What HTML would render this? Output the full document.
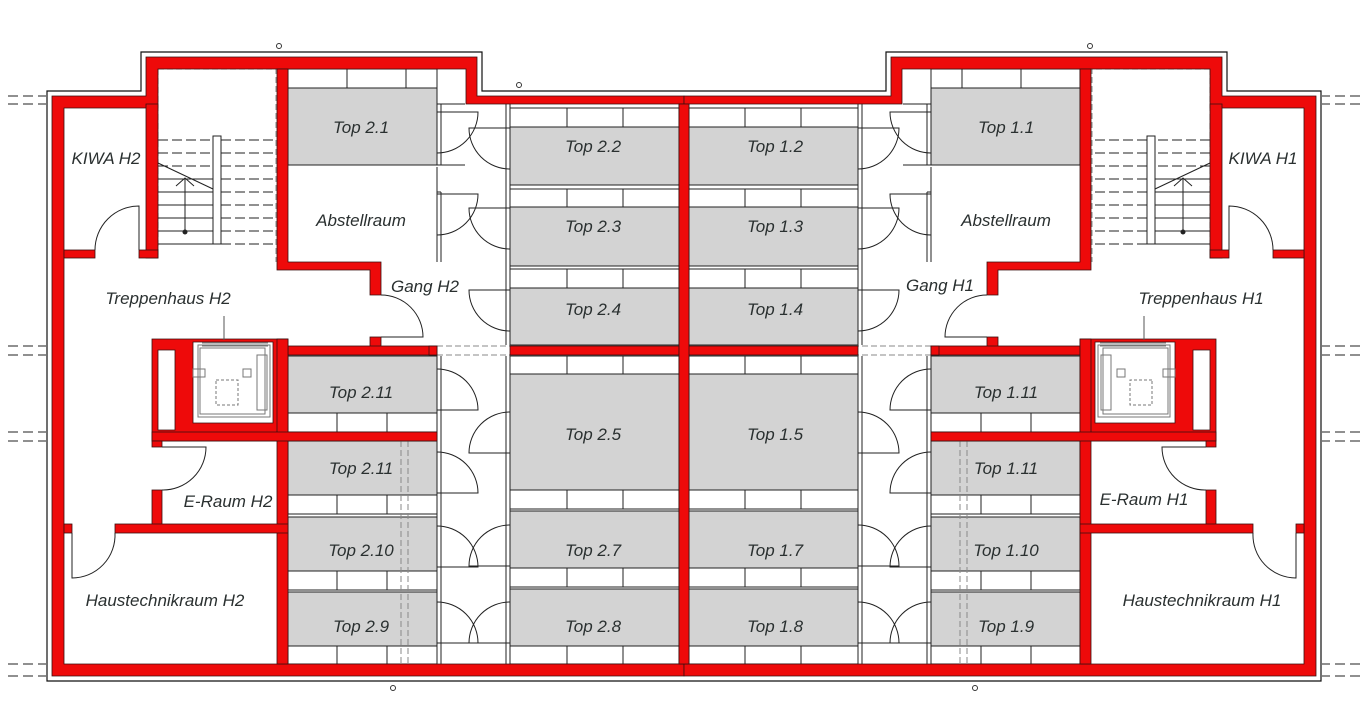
<!DOCTYPE html>
<html><head><meta charset="utf-8"><style>
html,body{margin:0;padding:0;background:#fff;width:1360px;height:716px;overflow:hidden}
svg{display:block}
text{font-family:"Liberation Sans",sans-serif;font-style:italic;font-size:17px;fill:#2a3030}
</style></head><body>
<svg width="1360" height="716" viewBox="0 0 1360 716" xmlns="http://www.w3.org/2000/svg">
<defs>
<g id="L">
  <path d="M684 91 H482 V52 H141 V91 H47 V681 H684" fill="none" stroke="#111" stroke-width="1.2"/>
  <g stroke="#222" stroke-width="1" stroke-dasharray="10,5" fill="none">
    <path d="M8 96H46M8 104H46M8 346H46M8 355H46M8 432H46M8 441H46M8 664H46M8 676H46"/>
  </g>
  <g fill="#d3d3d3" stroke="#222" stroke-width="1">
    <rect x="288" y="88" width="149" height="77"/>
    <rect x="510" y="127" width="169" height="58"/>
    <rect x="510" y="207" width="169" height="59"/>
    <rect x="510" y="288" width="169" height="57"/>
    <rect x="510" y="374" width="169" height="116"/>
    <rect x="510" y="511" width="169" height="57"/>
    <rect x="510" y="589" width="169" height="57"/>
    <rect x="288" y="356" width="149" height="57"/>
    <rect x="288" y="441" width="149" height="54"/>
    <rect x="288" y="517" width="149" height="54"/>
    <rect x="288" y="592" width="149" height="54"/>
  </g>
  <g fill="#fff" stroke="#222" stroke-width="1">
    <rect x="288" y="69" width="149" height="19"/>
    <rect x="510" y="108" width="169" height="19"/>
    <rect x="510" y="189" width="169" height="18"/>
    <rect x="510" y="269" width="169" height="19"/>
    <rect x="510" y="356" width="169" height="18"/>
    <rect x="510" y="490" width="169" height="19"/>
    <rect x="510" y="568" width="169" height="19"/>
    <rect x="510" y="646" width="169" height="18"/>
    <rect x="288" y="413" width="149" height="19"/>
    <rect x="288" y="495" width="149" height="19"/>
    <rect x="288" y="571" width="149" height="19"/>
    <rect x="288" y="646" width="149" height="18"/>
  </g>
  <g stroke="#222" stroke-width="1">
    <path d="M347 69V88M406 69V88"/>
    <path d="M567 108V127M623 108V127M567 189V207M623 189V207M567 269V288M623 269V288M567 356V374M623 356V374M567 490V509M623 490V509M567 568V587M623 568V587M567 646V664M623 646V664"/>
    <path d="M337 413V432M387 413V432M337 495V514M387 495V514M337 571V590M387 571V590M337 646V664M387 646V664"/>
    <path d="M437 104V165M441 104V165M437 167V262M441 192V262M437 356V664M441 356V664M506 104V345M510 104V345M506 356V664M510 356V664" fill="none"/>
    <path d="M437 165H465M437 192H441M437 104H465" fill="none"/>
  </g>
  <g stroke="#888" stroke-width="1" stroke-dasharray="6,3" fill="none">
    <path d="M437 346H510M437 355H510"/>
    <path d="M401 432V676M408 432V676"/>
    <path d="M158 69H276V262M158 69V258"/>
  </g>
  <g stroke="#222" stroke-width="1" fill="none">
    <path d="M221 140H276M221 153H276M221 166H276M221 179H276M221 192H276M221 205H276M221 218H276M221 231H276M221 244H276M158 140H213M158 153H213M158 166H213" stroke-dasharray="10,4"/>
    <path d="M158 179H213M158 192H213M158 205H213M158 218H213M158 231H213M158 244H213"/>
    <rect x="213" y="136" width="8" height="108" fill="#fff"/>
    <path d="M158 163L213 189M185 232V178M176 186L185 178L194 186"/>
    <circle cx="185" cy="232" r="2" fill="#222"/>
  </g>
  <g fill="#ee0a0a" stroke="#3a1010" stroke-width="0.8">
    <path d="M52 96H146V57H477V96H684V104H466V69H158V108H64V664H684V676H52Z"/>
    <rect x="146" y="104" width="12" height="154"/>
    <rect x="64" y="250" width="31" height="8"/>
    <rect x="139" y="250" width="19" height="8"/>
    <path d="M277 69H288V262H381V295H370V270H277Z"/>
    <rect x="370" y="337" width="11" height="10"/>
    <rect x="276" y="346" width="161" height="9"/>
    <rect x="429" y="346" width="8" height="9"/>
    <rect x="510" y="346" width="174" height="9"/>
    <rect x="679" y="104" width="10" height="560"/>
    <path d="M152 339H288V441H152ZM158 350V430H175V350ZM193 342V423H273V342Z" fill-rule="evenodd"/>
    <rect x="277" y="339" width="11" height="325"/>
    <rect x="152" y="432" width="285" height="9"/>
    <rect x="152" y="441" width="10" height="6"/>
    <rect x="152" y="490" width="10" height="35"/>
    <rect x="115" y="524" width="173" height="9"/>
    <rect x="64" y="524" width="8" height="9"/>
  </g>
  <g stroke="#777" stroke-width="1" fill="none">
    <rect x="198" y="345" width="72" height="72" fill="#fff"/>
    <rect x="200" y="348" width="65" height="66"/>
    <rect x="257" y="355" width="10" height="55"/>
    <rect x="216" y="380" width="22" height="25" stroke-dasharray="3,2"/>
    <path d="M202 343H268M202 346H268"/>
    <rect x="193" y="369" width="12" height="8"/>
    <rect x="243" y="369" width="8" height="8"/>
  </g>
  <path d="M224 316V340" stroke="#555" stroke-width="1"/>
  <g stroke="#222" stroke-width="1" fill="none">
    <path d="M437 112H478A41 41 0 0 1 437 153"/>
    <path d="M437 194H478A41 41 0 0 1 437 235"/>
    <path d="M510 128H469A41 41 0 0 0 510 169"/>
    <path d="M510 208H469A41 41 0 0 0 510 249"/>
    <path d="M510 290H469A41 41 0 0 0 510 331"/>
    <path d="M437 410H478A41 41 0 0 0 437 369"/>
    <path d="M437 493H478A41 41 0 0 0 437 452"/>
    <path d="M437 567H478A41 41 0 0 0 437 526"/>
    <path d="M437 643H478A41 41 0 0 0 437 602"/>
    <path d="M510 453H469A41 41 0 0 1 510 412"/>
    <path d="M510 566H469A41 41 0 0 1 510 525"/>
    <path d="M510 643H469A41 41 0 0 1 510 602"/>
    <path d="M381 337H423A42 42 0 0 0 381 295"/>
    <path d="M139 250V206A44 44 0 0 0 95 250"/>
    <path d="M162 447H206A43 43 0 0 1 162 490"/>
    <path d="M72 533V578A43 43 0 0 0 115 533"/>
  </g>
</g>
</defs>
<use href="#L"/>
<use href="#L" transform="translate(1368 0) scale(-1 1)"/>
<circle cx="279" cy="46" r="2.5" fill="none" stroke="#333"/>
<circle cx="519" cy="85" r="2.5" fill="none" stroke="#333"/>
<circle cx="1090" cy="46" r="2.5" fill="none" stroke="#333"/>
<circle cx="393" cy="688" r="2.5" fill="none" stroke="#333"/>
<circle cx="975" cy="688" r="2.5" fill="none" stroke="#333"/>
<g text-anchor="middle">
<text x="361" y="133">Top 2.1</text>
<text x="593" y="152">Top 2.2</text>
<text x="593" y="232">Top 2.3</text>
<text x="593" y="315">Top 2.4</text>
<text x="593" y="440">Top 2.5</text>
<text x="593" y="556">Top 2.7</text>
<text x="593" y="632">Top 2.8</text>
<text x="775" y="152">Top 1.2</text>
<text x="775" y="232">Top 1.3</text>
<text x="775" y="315">Top 1.4</text>
<text x="775" y="440">Top 1.5</text>
<text x="775" y="556">Top 1.7</text>
<text x="775" y="632">Top 1.8</text>
<text x="361" y="398">Top 2.11</text>
<text x="361" y="474">Top 2.11</text>
<text x="361" y="556">Top 2.10</text>
<text x="361" y="632">Top 2.9</text>
<text x="1006" y="133">Top 1.1</text>
<text x="1006" y="398">Top 1.11</text>
<text x="1006" y="474">Top 1.11</text>
<text x="1006" y="556">Top 1.10</text>
<text x="1006" y="632">Top 1.9</text>
<text x="361" y="226">Abstellraum</text>
<text x="1006" y="226">Abstellraum</text>
<text x="106" y="164">KIWA H2</text>
<text x="1263" y="164">KIWA H1</text>
<text x="168" y="304">Treppenhaus H2</text>
<text x="1201" y="304">Treppenhaus H1</text>
<text x="425" y="292">Gang H2</text>
<text x="940" y="291">Gang H1</text>
<text x="228" y="507">E-Raum H2</text>
<text x="1144" y="505">E-Raum H1</text>
<text x="165" y="606">Haustechnikraum H2</text>
<text x="1202" y="606">Haustechnikraum H1</text>
</g>
</svg>
</body></html>
